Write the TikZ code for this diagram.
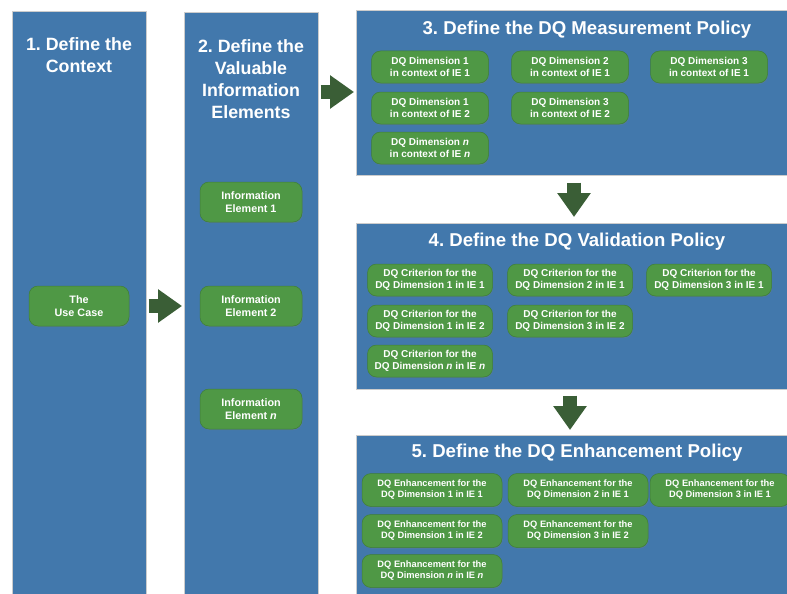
\documentclass[tikz,border=0pt]{standalone}
\usepackage{fontspec}
\setmainfont{Liberation Sans}
\frenchspacing
\usetikzlibrary{arrows.meta,shadows}

\definecolor{panelblue}{HTML}{4278AC}
\definecolor{boxgreen}{HTML}{4F9845}
\definecolor{boxedge}{HTML}{3F7E37}
\definecolor{flowgreen}{HTML}{3A5E36}

\tikzset{
  panel/.style={fill=panelblue, draw=gray!40, line width=0.6pt, anchor=north west, inner sep=0pt},
  coltitle/.style={text=white, align=center, font=\bfseries\fontsize{17.8}{22}\selectfont},
  pantitle/.style={text=white, font=\bfseries\fontsize{18.6}{22}\selectfont},
  gbox/.style={fill=boxgreen, draw=boxedge, line width=0.5pt, rounded corners=9pt, text=white, align=center,
    inner sep=0pt, minimum height=32pt, font=\bfseries\fontsize{10}{11.8}\selectfont,
    drop shadow={opacity=0.3, shadow xshift=0.6pt, shadow yshift=-1pt}},
  iebox/.style={gbox, minimum width=102pt, minimum height=40pt, font=\bfseries\fontsize{10.8}{12.8}\selectfont},
  ebox/.style={gbox, minimum width=140pt, minimum height=33pt, font=\bfseries\fontsize{9.3}{11}\selectfont},
  flow/.style={draw=flowgreen, line width=14pt, -{Triangle[length=24pt,width=32pt]}}
}

\begin{document}
\begin{tikzpicture}[x=1pt,y=-1pt]
    \clip (0,0) rectangle (787,594);
    \fill[white] (0,0) rectangle (787,594);

    % the five panels
    \node[panel, minimum width=134pt, minimum height=600pt] (col1) at (12,11) {};
    \node[panel, minimum width=134pt, minimum height=600pt] (col2) at (184,12) {};
    \node[panel, minimum width=450pt, minimum height=165pt] (p3) at (356,10) {};
    \node[panel, minimum width=450pt, minimum height=166pt] (p4) at (356,223) {};
    \node[panel, minimum width=450pt, minimum height=170pt] (p5) at (356,435) {};

    \node[coltitle] (t1) at (79,55) {1. Define the\\Context};
    \node[coltitle] (t2) at (251,79.5) {2. Define the\\Valuable\\Information\\Elements};
    \node[pantitle] (t3) at (587,30) {3. Define the DQ Measurement Policy};
    \node[pantitle] (t4) at (577,242) {4. Define the DQ Validation Policy};
    \node[pantitle] (t5) at (577,453) {5. Define the DQ Enhancement Policy};

    % context and information elements
    \node[iebox, minimum width=100pt] (usecase) at (79,306) {The\\Use Case};
    \node[iebox] (ie1) at (251,202) {Information\\Element 1};
    \node[iebox] (ie2) at (251,306) {Information\\Element 2};
    \node[iebox] (ien) at (251,409) {Information\\Element \textit{n}};

    % measurement policy
    \node[gbox, minimum width=117pt] (m11) at (430,67) {DQ Dimension 1\\in context of IE 1};
    \node[gbox, minimum width=117pt] (m21) at (570,67) {DQ Dimension 2\\in context of IE 1};
    \node[gbox, minimum width=117pt] (m31) at (709,67) {DQ Dimension 3\\in context of IE 1};
    \node[gbox, minimum width=117pt] (m12) at (430,108) {DQ Dimension 1\\in context of IE 2};
    \node[gbox, minimum width=117pt] (m32) at (570,108) {DQ Dimension 3\\in context of IE 2};
    \node[gbox, minimum width=117pt] (mnn) at (430,148) {DQ Dimension \textit{n}\\in context of IE \textit{n}};

    % validation policy
    \node[gbox, minimum width=125pt] (v11) at (430,280) {DQ Criterion for the\\DQ Dimension 1 in IE 1};
    \node[gbox, minimum width=125pt] (v21) at (570,280) {DQ Criterion for the\\DQ Dimension 2 in IE 1};
    \node[gbox, minimum width=125pt] (v31) at (709,280) {DQ Criterion for the\\DQ Dimension 3 in IE 1};
    \node[gbox, minimum width=125pt] (v12) at (430,321) {DQ Criterion for the\\DQ Dimension 1 in IE 2};
    \node[gbox, minimum width=125pt] (v32) at (570,321) {DQ Criterion for the\\DQ Dimension 3 in IE 2};
    \node[gbox, minimum width=125pt] (vnn) at (430,361) {DQ Criterion for the\\DQ Dimension \textit{n} in IE \textit{n}};

    % enhancement policy
    \node[ebox] (e11) at (432,490) {DQ Enhancement for the\\DQ Dimension 1 in IE 1};
    \node[ebox] (e21) at (578,490) {DQ Enhancement for the\\DQ Dimension 2 in IE 1};
    \node[ebox] (e31) at (720,490) {DQ Enhancement for the\\DQ Dimension 3 in IE 1};
    \node[ebox] (e12) at (432,531) {DQ Enhancement for the\\DQ Dimension 1 in IE 2};
    \node[ebox] (e32) at (578,531) {DQ Enhancement for the\\DQ Dimension 3 in IE 2};
    \node[ebox] (enn) at (432,571) {DQ Enhancement for the\\DQ Dimension \textit{n} in IE \textit{n}};

    % flow arrows
    \coordinate (a2) at (0,92);
    \coordinate (d1) at (574,0);
    \coordinate (d2) at (570,0);
    \draw[flow, shorten <=2pt, shorten >=2pt] (col1.east |- usecase) -- (col2.west |- usecase);
    \draw[flow, shorten <=2pt, shorten >=2pt] (col2.east |- a2) -- (p3.west |- a2);
    \draw[flow, shorten <=7pt, shorten >=6pt] (p3.south -| d1) -- (p4.north -| d1);
    \draw[flow, shorten <=6pt, shorten >=5pt] (p4.south -| d2) -- (p5.north -| d2);
\end{tikzpicture}
\end{document}
